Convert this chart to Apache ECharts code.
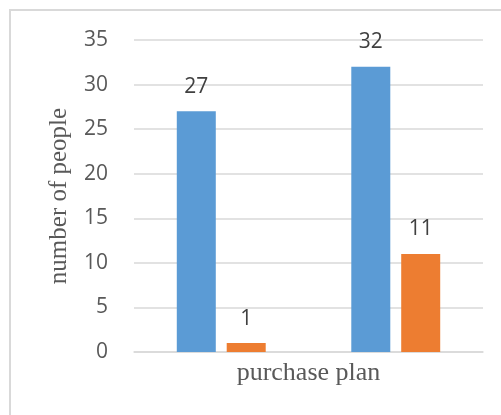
<!DOCTYPE html>
<html>
<head>
<meta charset="utf-8">
<script src="https://cdn.jsdelivr.net/npm/echarts@6/dist/echarts.min.js"></script>
<style>
  html, body { margin: 0; padding: 0; background: #ffffff; }
  #chart { width: 501px; height: 415px; }
</style>
</head>
<body>
<div id="chart"></div>
<script>
// Two groups of bars along the purchase-plan axis
const categories = ['A', 'B'];
const seriesBlue = [27, 32];
const seriesOrange = [1, 11];
const yTicks = { min: 0, max: 35, interval: 5 };

const chart = echarts.init(document.getElementById('chart'), null, { renderer: 'canvas' });

const labelStyle = {
  show: true,
  position: 'top',
  distance: 14,
  fontFamily: 'Open Sans',
  fontSize: 21,
  color: '#404040'
};

chart.setOption({
  animation: false,
  backgroundColor: '#ffffff',
  graphic: [{
    type: 'rect',
    shape: { x: 10, y: 10, width: 600, height: 600 },
    style: { fill: 'none', stroke: '#d9d9d9', lineWidth: 2 },
    silent: true
  }],
  grid: { left: 134, right: 18, top: 40, bottom: 63 },
  xAxis: {
    type: 'category',
    data: categories,
    name: 'purchase plan',
    nameLocation: 'middle',
    nameGap: 8,
    nameTextStyle: { fontFamily: 'Liberation Serif', fontSize: 26, color: '#595959' },
    axisLine: { show: true, lineStyle: { color: '#d9d9d9', width: 1.5 } },
    axisTick: { show: false },
    axisLabel: { show: false }
  },
  yAxis: {
    type: 'value',
    min: yTicks.min,
    max: yTicks.max,
    interval: yTicks.interval,
    name: 'number of people',
    nameLocation: 'middle',
    nameGap: 62,
    nameTextStyle: { fontFamily: 'Liberation Serif', fontSize: 25, color: '#595959' },
    axisLine: { show: false },
    axisTick: { show: false },
    axisLabel: { margin: 26, fontFamily: 'Open Sans', fontSize: 21, color: '#595959' },
    splitLine: { lineStyle: { color: '#d9d9d9', width: 1.5 } }
  },
  series: [
    {
      type: 'bar',
      data: seriesBlue,
      barWidth: 39,
      barGap: '28%',
      itemStyle: { color: '#5b9bd5' },
      label: labelStyle
    },
    {
      type: 'bar',
      data: seriesOrange,
      barWidth: 39,
      barGap: '28%',
      itemStyle: { color: '#ed7d31' },
      label: labelStyle
    }
  ]
});
</script>
</body>
</html>
